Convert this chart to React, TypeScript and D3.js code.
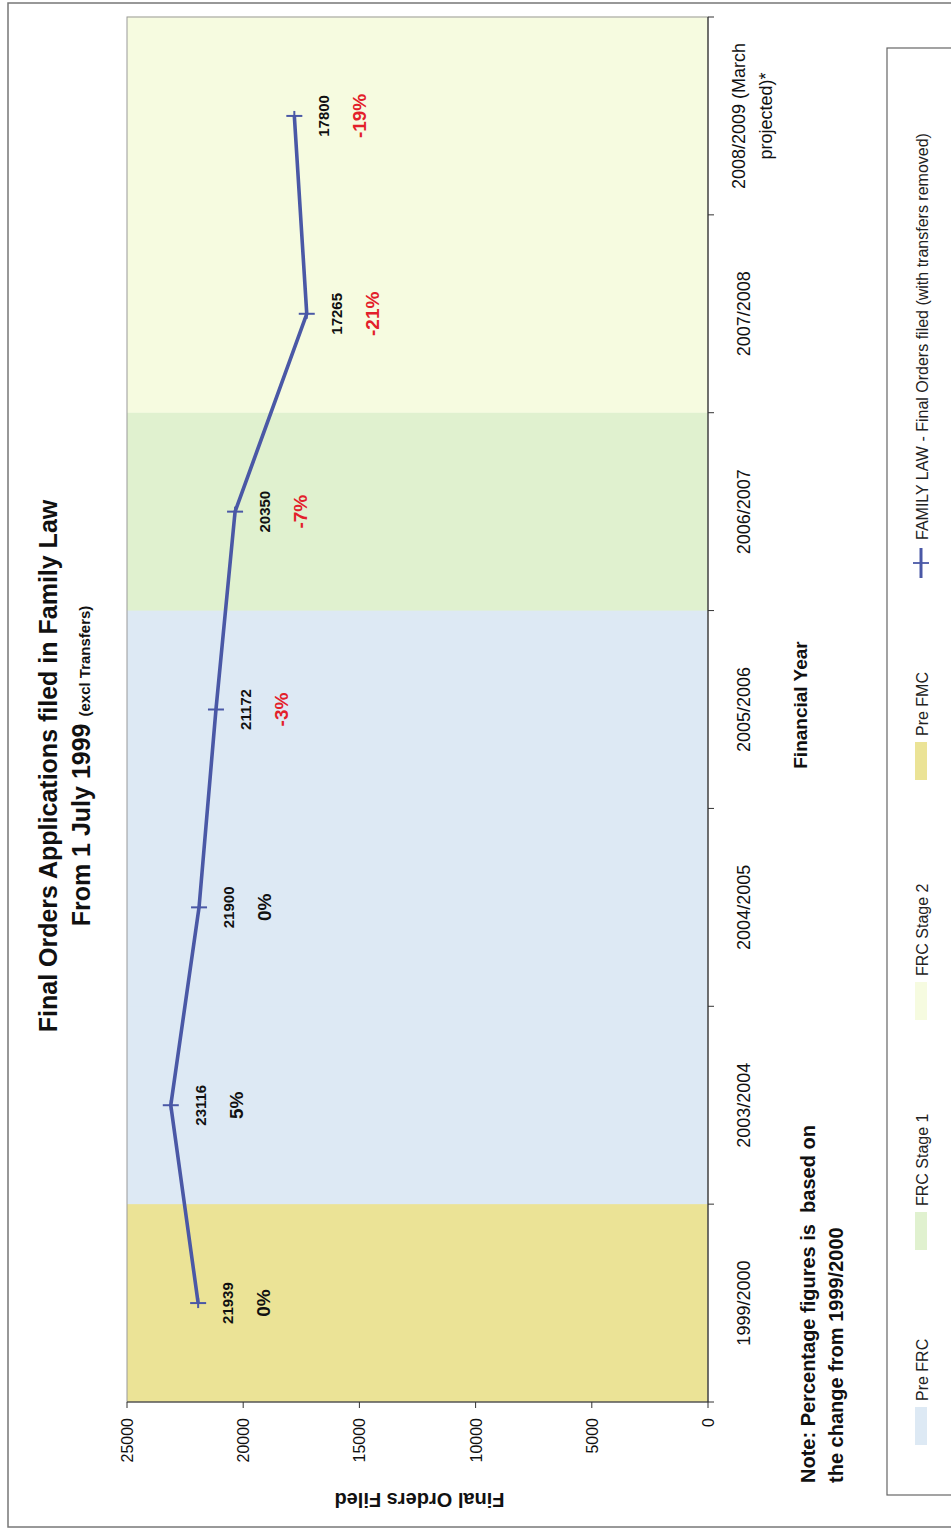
import React from "react";
import * as d3 from "d3";

// ---------- data ----------
const categories = [
  "1999/2000",
  "2003/2004",
  "2004/2005",
  "2005/2006",
  "2006/2007",
  "2007/2008",
  "2008/2009 (March projected)*",
];
const categoryLines = [
  ["1999/2000"],
  ["2003/2004"],
  ["2004/2005"],
  ["2005/2006"],
  ["2006/2007"],
  ["2007/2008"],
  ["2008/2009 (March", "projected)*"],
];
const finalOrders = [21939, 23116, 21900, 21172, 20350, 17265, 17800];
const pctChange = ["0%", "5%", "0%", "-3%", "-7%", "-21%", "-19%"];
const periods = [
  "Pre FMC",
  "Pre FRC",
  "Pre FRC",
  "Pre FRC",
  "FRC Stage 1",
  "FRC Stage 2",
  "FRC Stage 2",
];
const legendPeriods = ["Pre FRC", "FRC Stage 1", "FRC Stage 2", "Pre FMC"];
const valueTicks = [0, 5000, 10000, 15000, 20000, 25000];
const seriesName = "FAMILY LAW - Final Orders filed (with transfers removed)";

const periodColors: Record<string, string> = {
  "Pre FRC": "#dde9f4",
  "FRC Stage 1": "#e0f1cf",
  "FRC Stage 2": "#f6fbe0",
  "Pre FMC": "#ebe396",
};

// ---------- layout (original, un-rotated frame) ----------
const W = 951;
const H = 1531;
const FONT = "'Liberation Sans', Arial, Helvetica, sans-serif";
const LINE_COLOR = "#4a58a6";
const RED = "#e3202a";

const plot = { u0: 129, u1: 1514, vTop: 127, vBottom: 708 };
const legendSwatchU = [86, 281, 511, 751];
const legendLineU = 953;

export default function App() {
  const x = d3.scaleBand<string>().domain(categories).range([plot.u0, plot.u1]);
  const y = d3.scaleLinear().domain([0, 25000]).range([plot.vBottom, plot.vTop]);
  const bw = x.bandwidth();

  const pts: [number, number][] = categories.map((c, i) => [
    (x(c) as number) + bw / 2,
    y(finalOrders[i]),
  ]);
  const line = d3.line<[number, number]>()(pts) as string;

  return (
    <svg
      width={W}
      height={H}
      style={{ position: "absolute", left: 0, top: 0, background: "#fff" }}
      fontFamily={FONT}
    >
      {/* page frame */}
      <rect x={8} y={3} width={948} height={1524} fill="none" stroke="#777" strokeWidth={1.5} />

      <g transform={`translate(0,${H}) rotate(-90)`}>
        {/* background period bands */}
        {categories.map((c, i) => (
          <rect
            key={c}
            x={x(c) as number}
            y={plot.vTop}
            width={bw + 0.5}
            height={plot.vBottom - plot.vTop}
            fill={periodColors[periods[i]]}
          />
        ))}
        {/* plot border */}
        <rect
          x={plot.u0}
          y={plot.vTop}
          width={plot.u1 - plot.u0}
          height={plot.vBottom - plot.vTop}
          fill="none"
          stroke="#999"
          strokeWidth={1}
        />

        {/* category axis */}
        <line x1={plot.u0} x2={plot.u1} y1={plot.vBottom} y2={plot.vBottom} stroke="#333" strokeWidth={1.2} />
        {[...categories.map((c) => x(c) as number), plot.u1].map((u, i) => (
          <line key={i} x1={u} x2={u} y1={plot.vBottom} y2={plot.vBottom + 6} stroke="#333" strokeWidth={1} />
        ))}
        {categories.map((c, i) => {
          const lines = categoryLines[i];
          const base = lines.length > 1 ? 745 : 750;
          return (
            <text
              key={c}
              x={(x(c) as number) + bw / 2}
              y={base}
              textAnchor="middle"
              fontSize={18}
              fill="#111"
            >
              {lines.map((l, j) => (
                <tspan key={j} x={(x(c) as number) + bw / 2} y={base + j * 27}>
                  {l}
                </tspan>
              ))}
            </text>
          );
        })}

        {/* value axis */}
        <line x1={plot.u0} x2={plot.u0} y1={plot.vTop} y2={plot.vBottom} stroke="#333" strokeWidth={1.2} />
        {valueTicks.map((t) => (
          <g key={t}>
            <line x1={plot.u0 - 6} x2={plot.u0} y1={y(t)} y2={y(t)} stroke="#333" strokeWidth={1} />
            <text x={113} y={y(t) + 6} textAnchor="end" fontSize={16} fill="#111">
              {t}
            </text>
          </g>
        ))}
        <text
          transform={`translate(38,${(plot.vTop + plot.vBottom) / 2 + 2}) rotate(-90)`}
          textAnchor="middle"
          fontSize={20}
          fontWeight="bold"
          fill="#111"
        >
          Final Orders Filed
        </text>

        {/* series line */}
        <path d={line} fill="none" stroke={LINE_COLOR} strokeWidth={3.6} strokeLinejoin="round" />
        {pts.map(([u, v], i) => (
          <g key={i} stroke={LINE_COLOR} strokeWidth={2}>
            <line x1={u} x2={u} y1={v - 8} y2={v + 8} />
            <line x1={u - 5} x2={u + 5} y1={v} y2={v} />
          </g>
        ))}

        {/* value labels */}
        {pts.map(([u, v], i) => (
          <text key={"v" + i} x={u} y={v + 35} textAnchor="middle" fontSize={15} fontWeight="bold" fill="#111">
            {finalOrders[i]}
          </text>
        ))}
        {/* percentage labels */}
        {pts.map(([u, v], i) => (
          <text
            key={"p" + i}
            x={u}
            y={v + 72}
            textAnchor="middle"
            fontSize={19}
            fontWeight="bold"
            fill={pctChange[i].startsWith("-") ? RED : "#111"}
          >
            {pctChange[i]}
          </text>
        ))}

        {/* title */}
        <text x={765} y={57} textAnchor="middle" fontSize={25} fontWeight="bold" fill="#111">
          Final Orders Applications filed in Family Law
        </text>
        <text x={765} y={90} textAnchor="middle" fontWeight="bold" fill="#111">
          <tspan fontSize={25}>From 1 July 1999 </tspan>
          <tspan fontSize={15}>(excl Transfers)</tspan>
        </text>

        {/* x axis title */}
        <text x={826} y={807} textAnchor="middle" fontSize={19} fontWeight="bold" fill="#111">
          Financial Year
        </text>

        {/* note */}
        <text x={48} y={815} fontSize={20} fontWeight="bold" fill="#111" style={{ whiteSpace: "pre" }}>
          <tspan x={48} y={815}>{"Note: Percentage figures is  based on"}</tspan>
          <tspan x={48} y={843}>the change from 1999/2000</tspan>
        </text>

        {/* legend */}
        <rect x={36} y={887} width={1447} height={80} fill="#fff" stroke="#666" strokeWidth={1.2} />
        {legendPeriods.map((p, i) => (
          <g key={p}>
            <rect x={legendSwatchU[i]} y={915} width={38} height={12} fill={periodColors[p]} />
            <text x={legendSwatchU[i] + 44} y={928} fontSize={16} fill="#222">
              {p}
            </text>
          </g>
        ))}
        <g stroke={LINE_COLOR}>
          <line x1={legendLineU} x2={legendLineU + 30} y1={921} y2={921} strokeWidth={3} />
          <line x1={legendLineU + 15} x2={legendLineU + 15} y1={913} y2={929} strokeWidth={1.8} />
        </g>
        <text x={legendLineU + 38} y={928} fontSize={16} fill="#222">
          {seriesName}
        </text>
      </g>
    </svg>
  );
}
